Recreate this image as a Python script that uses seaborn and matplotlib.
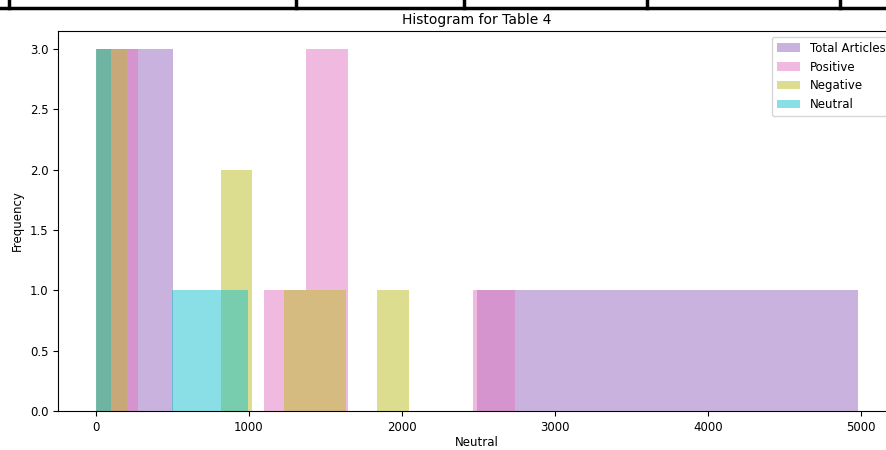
import matplotlib
matplotlib.use("Agg")
import matplotlib.pyplot as plt
from matplotlib.lines import Line2D
import seaborn as sns

# Article counts per row of Table 4
total_articles = [480, 220, 4, 4980, 4243, 3792, 3200, 2620]
positive = [250, 120, 2, 2740, 1600, 1500, 1400, 1200]
negative = [150, 70, 1, 1500, 2043, 1300, 950, 900]
neutral = [80, 30, 1, 740, 600, 992, 850, 520]

series_labels = ["Total Articles", "Positive", "Negative", "Neutral"]
series_colors = ["tab:purple", "tab:pink", "tab:olive", "tab:cyan"]

plt.rcParams["font.family"] = ["DejaVu Sans"]

fig = plt.figure(figsize=(8.86, 4.5), dpi=100)
ax = fig.add_axes([58 / 886, 1 - 411 / 450, (896 - 58) / 886, (411 - 31) / 450])

for values, label, color in zip(
    [total_articles, positive, negative, neutral], series_labels, series_colors
):
    sns.histplot(
        x=values,
        bins=10,
        color=color,
        alpha=0.5,
        linewidth=0,
        edgecolor="none",
        label=label,
        ax=ax,
    )

ax.set_title("Histogram for Table 4", fontsize=10, pad=5)
ax.set_xlabel("Neutral", fontsize=8.5, labelpad=2)
ax.set_ylabel("Frequency", fontsize=8.5)
ax.tick_params(labelsize=8.5)
ax.legend(loc="upper right", fontsize=8.5)

# ruled table border above the chart
line_kw = dict(color="black", linewidth=2.5, transform=fig.transFigure)
fig.add_artist(Line2D([0, 1], [1 - 8 / 450, 1 - 8 / 450], **line_kw))
for xp in [9, 296, 464, 647, 840]:
    fig.add_artist(Line2D([xp / 886, xp / 886], [1, 1 - 8 / 450], **line_kw))

fig.savefig("out.png", dpi=100)
